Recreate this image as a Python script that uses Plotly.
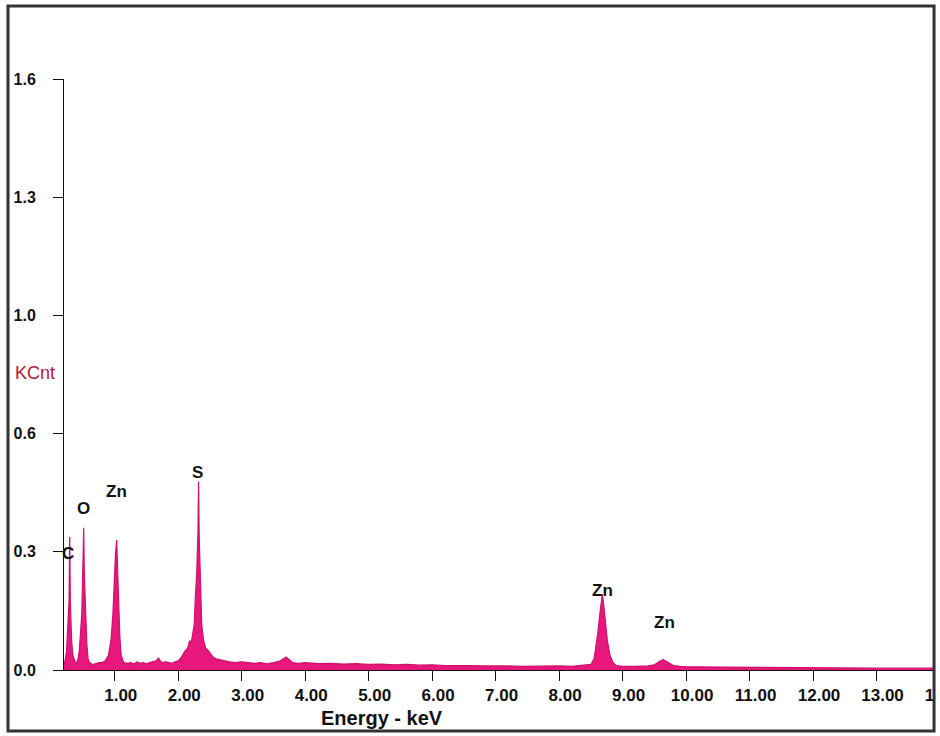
import plotly.graph_objects as go

# EDS spectrum (energy in keV, intensity in KCnt)
energy = [0.20, 0.22, 0.24, 0.26, 0.28, 0.29, 0.30, 0.32, 0.34, 0.36, 0.38, 0.40,
          0.42, 0.44, 0.46, 0.48, 0.50, 0.51, 0.52, 0.54, 0.56, 0.58, 0.60, 0.65,
          0.70, 0.75, 0.80, 0.85, 0.90, 0.94, 0.97, 0.99, 1.01, 1.03, 1.04, 1.06,
          1.08, 1.10, 1.14, 1.20, 1.25, 1.30, 1.35, 1.40, 1.45, 1.50, 1.55, 1.60,
          1.65, 1.69, 1.72, 1.75, 1.80, 1.85, 1.90, 1.95, 2.00, 2.05, 2.10, 2.15,
          2.18, 2.20, 2.22, 2.25, 2.27, 2.29, 2.31, 2.32, 2.33, 2.35, 2.37, 2.40,
          2.43, 2.46, 2.50, 2.55, 2.60, 2.65, 2.70, 2.80, 2.90, 3.00, 3.10, 3.20,
          3.30, 3.40, 3.50, 3.60, 3.65, 3.70, 3.75, 3.80, 3.90, 4.00, 4.20, 4.40,
          4.60, 4.80, 5.00, 5.20, 5.40, 5.60, 5.80, 6.00, 6.20, 6.40, 6.60, 6.80,
          7.00, 7.20, 7.40, 7.60, 7.80, 8.00, 8.20, 8.40, 8.50, 8.55, 8.58, 8.61,
          8.64, 8.67, 8.68, 8.70, 8.73, 8.76, 8.80, 8.85, 8.90, 9.00, 9.20, 9.40,
          9.50, 9.55, 9.60, 9.64, 9.68, 9.72, 9.80, 9.90, 10.00, 10.50, 11.00, 11.50,
          12.00, 12.50, 13.00, 13.50, 14.00]
kcnt = [0.010, 0.030, 0.050, 0.120, 0.190, 0.360, 0.180, 0.080, 0.040, 0.030, 0.020, 0.020,
        0.030, 0.050, 0.100, 0.150, 0.300, 0.385, 0.260, 0.140, 0.070, 0.030, 0.020, 0.015,
        0.018, 0.020, 0.020, 0.025, 0.040, 0.080, 0.150, 0.240, 0.310, 0.352, 0.310, 0.190,
        0.090, 0.040, 0.020, 0.018, 0.020, 0.016, 0.022, 0.018, 0.020, 0.017, 0.020, 0.022,
        0.025, 0.032, 0.024, 0.020, 0.022, 0.020, 0.018, 0.022, 0.025, 0.035, 0.050, 0.060,
        0.080, 0.070, 0.090, 0.120, 0.200, 0.260, 0.370, 0.510, 0.360, 0.200, 0.120, 0.080,
        0.060, 0.055, 0.045, 0.035, 0.030, 0.028, 0.024, 0.022, 0.020, 0.022, 0.020, 0.018,
        0.020, 0.017, 0.020, 0.024, 0.030, 0.035, 0.028, 0.020, 0.018, 0.020, 0.017, 0.018,
        0.016, 0.017, 0.015, 0.016, 0.014, 0.015, 0.013, 0.014, 0.012, 0.013, 0.012, 0.011,
        0.012, 0.011, 0.010, 0.011, 0.010, 0.011, 0.010, 0.012, 0.015, 0.030, 0.060, 0.100,
        0.150, 0.190, 0.205, 0.180, 0.130, 0.080, 0.040, 0.020, 0.012, 0.010, 0.010, 0.011,
        0.014, 0.020, 0.025, 0.028, 0.024, 0.018, 0.012, 0.010, 0.009, 0.008, 0.007, 0.007,
        0.006, 0.006, 0.005, 0.005, 0.005]

# Peak labels
peak_labels = ["C", "O", "Zn", "S", "Zn", "Zn"]
peak_x = [0.27, 0.50, 1.03, 2.30, 8.68, 9.66]
peak_y = [0.315, 0.438, 0.483, 0.535, 0.215, 0.128]

y_tickvals = [0.0, 0.32, 0.64, 0.96, 1.28, 1.6]
y_ticktext = ["0.0", "0.3", "0.6", "1.0", "1.3", "1.6"]
x_tickvals = [1, 2, 3, 4, 5, 6, 7, 8, 9, 10, 11, 12, 13, 14]
x_ticktext = ["1.00", "2.00", "3.00", "4.00", "5.00", "6.00", "7.00", "8.00",
              "9.00", "10.00", "11.00", "12.00", "13.00", "14.00"]

FONT = "Liberation Sans"

fig = go.Figure()
fig.add_trace(go.Scatter(
    x=energy, y=kcnt, mode="lines", fill="tozeroy",
    line=dict(color="#d0106e", width=1.2),
    fillcolor="#e8177c", hoverinfo="skip", showlegend=False,
))

for lab, px, py in zip(peak_labels, peak_x, peak_y):
    fig.add_annotation(x=px, y=py, text=lab, showarrow=False,
                       font=dict(family=FONT, size=17, color="#111", weight="bold"))

fig.add_annotation(xref="paper", yref="paper", x=-0.033, y=0.503, text="KCnt",
                   xanchor="center", yanchor="middle",
                   showarrow=False, font=dict(family=FONT, size=18, color="#b01830"))
fig.add_annotation(xref="paper", yref="paper", x=0.363, y=-0.082, text="Energy - keV",
                   xanchor="center", yanchor="middle",
                   showarrow=False, font=dict(family=FONT, size=20, color="#111", weight="bold"))

# outer frame
fig.add_shape(type="rect", xref="paper", yref="paper", x0=0.9932, x1=1.03, y0=-0.2, y1=1.2,
              fillcolor="white", line=dict(width=0), layer="above")
fig.add_shape(type="rect", xref="paper", yref="paper",
              x0=-0.0639, x1=0.9932, y0=-0.1032, y1=1.1235,
              line=dict(color="#333", width=3), layer="above")

fig.update_layout(
    width=940, height=736, autosize=False,
    margin=dict(l=64, r=0, t=79, b=66, autoexpand=False),
    paper_bgcolor="white", plot_bgcolor="white",
    xaxis=dict(range=[0.2, 14.0], tickvals=x_tickvals, ticktext=x_ticktext,
               automargin=False,
               showgrid=False, zeroline=False, showline=True, linecolor="#111",
               linewidth=1, ticks="outside", ticklen=10, tickcolor="#111",
               ticklabelshift=6, ticklabeloverflow="allow",
               tickfont=dict(family=FONT, size=17, color="#111", weight="bold")),
    yaxis=dict(range=[0, 1.6], tickvals=y_tickvals, ticktext=y_ticktext,
               automargin=False,
               showgrid=False, zeroline=False, showline=True, linecolor="#111",
               linewidth=1, ticks="outside", ticklen=10, tickcolor="#111",
               ticklabelstandoff=14,
               tickfont=dict(family=FONT, size=16, color="#111", weight="bold")),
)

post = ("document.body.style.margin='0';document.body.style.overflow='hidden';"
        "var gd=document.getElementById('{plot_id}');"
        "Plotly.relayout(gd,{width:940,height:736});")

fig.write_html("out.html", post_script=post,
               config={"responsive": False, "displayModeBar": False})
